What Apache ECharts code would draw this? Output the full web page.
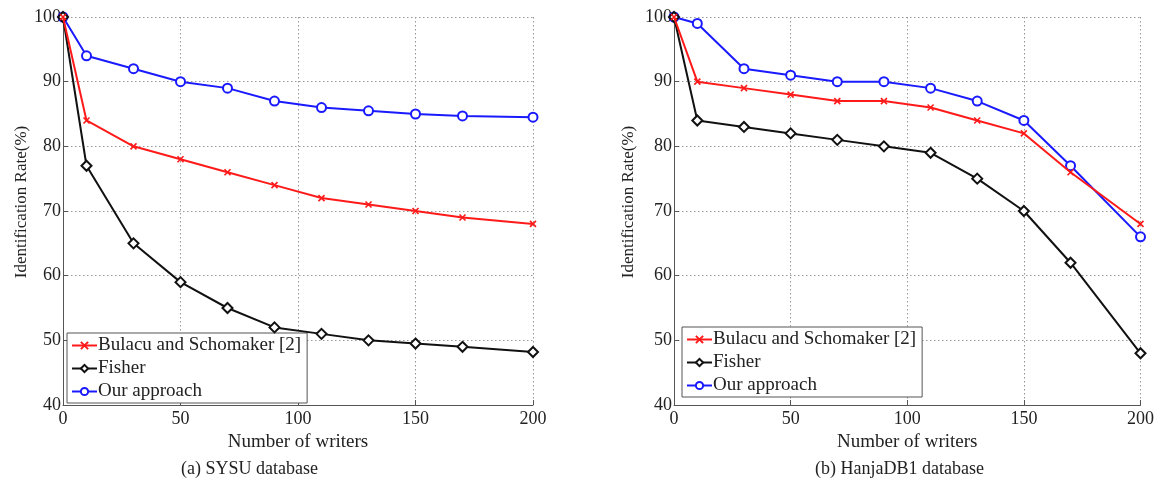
<!DOCTYPE html>
<html>
<head>
<meta charset="utf-8">
<script src="https://cdn.jsdelivr.net/npm/echarts@6/dist/echarts.min.js"></script>
<style>
html,body{margin:0;padding:0;background:#fff;}
#c{width:1157px;height:484px;}
</style>
</head>
<body>
<div id="c"></div>
<script>
const writers = [0, 10, 30, 50, 70, 90, 110, 130, 150, 170, 200];
const yTicks = [40, 50, 60, 70, 80, 90, 100];
const xTicks = [0, 50, 100, 150, 200];
const seriesNames = ['Bulacu and Schomaker [2]', 'Fisher', 'Our approach'];

// (a) SYSU database
const sysuBulacu = [100, 84, 80, 78, 76, 74, 72, 71, 70, 69, 68];
const sysuFisher = [100, 77, 65, 59, 55, 52, 51, 50, 49.5, 49, 48.2];
const sysuOurs   = [100, 94, 92, 90, 89, 87, 86, 85.5, 85, 84.7, 84.5];

// (b) HanjaDB1 database
const hanjaBulacu = [100, 90, 89, 88, 87, 87, 86, 84, 82, 76, 68];
const hanjaFisher = [100, 84, 83, 82, 81, 80, 79, 75, 70, 62, 48];
const hanjaOurs   = [100, 99, 92, 91, 90, 90, 89, 87, 84, 77, 66];

const captions = ['(a) SYSU database', '(b) HanjaDB1 database'];
const xName = 'Number of writers';
const yName = 'Identification Rate(%)';

const FONT = 'Liberation Serif';
const pair = (ys) => writers.map((x, i) => [x, ys[i]]);

const styles = [
  {color: '#ff1a1a', symbol: 'path://M0,0L10,10M10,0L0,10', size: 6},
  {color: '#111111', symbol: 'emptyDiamond', size: 10},
  {color: '#1a1aff', symbol: 'emptyCircle', size: 9}
];

function mkSeries(idx, dataSets) {
  return dataSets.map((d, k) => ({
    name: seriesNames[k],
    type: 'line',
    xAxisIndex: idx, yAxisIndex: idx,
    data: pair(d),
    symbol: styles[k].symbol,
    symbolSize: styles[k].size,
    showAllSymbol: true,
    lineStyle: {color: styles[k].color, width: 2},
    itemStyle: {color: styles[k].color, borderColor: styles[k].color, borderWidth: 1.6},
    emphasis: {disabled: true},
    animation: false,
    z: 3 - k + 2
  }));
}

function mkX(idx) {
  return {
    type: 'value', gridIndex: idx, min: 0, max: 200, interval: 50,
    name: xName, nameLocation: 'middle', nameGap: 19,
    nameTextStyle: {fontFamily: FONT, fontSize: 19, color: '#222'},
    axisLine: {show: true, onZero: false, lineStyle: {color: '#555', width: 1}},
    axisTick: {show: true, inside: true, length: 5, lineStyle: {color: '#555'}},
    axisLabel: {fontFamily: FONT, fontSize: 18, color: '#222', margin: 5},
    splitLine: {show: true, lineStyle: {color: '#999', type: [1.5, 2.5], width: 1}}
  };
}
function mkY(idx, gap) {
  return {
    type: 'value', gridIndex: idx, min: 40, max: 100, interval: 10,
    name: yName, nameLocation: 'middle', nameGap: gap,
    nameTextStyle: {fontFamily: FONT, fontSize: 17, color: '#222', padding: [0, 0, 0, 18]},
    axisLine: {show: true, lineStyle: {color: '#555', width: 1}},
    axisTick: {show: true, inside: true, length: 5, lineStyle: {color: '#555'}},
    axisLabel: {fontFamily: FONT, fontSize: 18, color: '#222', margin: 2},
    splitLine: {show: true, lineStyle: {color: '#999', type: [1.5, 2.5], width: 1}}
  };
}
function mkLegend(left, top) {
  return {
    left: left, top: top, orient: 'vertical',
    data: seriesNames,
    itemWidth: 25, itemHeight: 9, itemGap: 4,
    textStyle: {fontFamily: FONT, fontSize: 19, color: '#222', padding: [0, 0, 0, -4]},
    borderColor: '#555', borderWidth: 1, backgroundColor: '#fff',
    padding: [3, 6, 2, 4],
    selectedMode: false
  };
}

const chart = echarts.init(document.getElementById('c'), null, {renderer: 'canvas'});
chart.setOption({
  animation: false,
  backgroundColor: '#fff',
  grid: [
    {left: 63, right: 624, top: 17, bottom: 79},
    {left: 674, right: 15, top: 17, bottom: 79}
  ],
  xAxis: [mkX(0), mkX(1)],
  yAxis: [mkY(0, 33), mkY(1, 37)],
  legend: [mkLegend(67, 333), mkLegend(682, 327)],
  title: [
    {text: captions[0], left: 176, top: 455,
     textStyle: {fontFamily: FONT, fontSize: 18, fontWeight: 'normal', color: '#222'}},
    {text: captions[1], left: 810, top: 455,
     textStyle: {fontFamily: FONT, fontSize: 18, fontWeight: 'normal', color: '#222'}}
  ],
  series: [].concat(
    mkSeries(0, [sysuBulacu, sysuFisher, sysuOurs]),
    mkSeries(1, [hanjaBulacu, hanjaFisher, hanjaOurs])
  )
});
</script>
</body>
</html>
